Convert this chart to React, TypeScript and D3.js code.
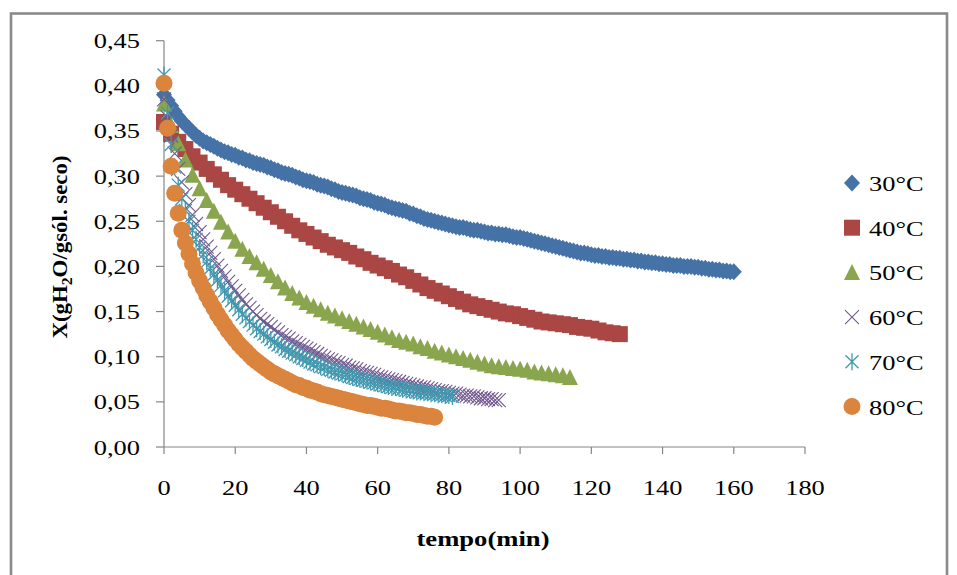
import React from "react";
import * as d3 from "d3";

// ---- data (X in g H2O / g sólido seco, tempo in min) ----
const seriesNames = ["30°C", "40°C", "50°C", "60°C", "70°C", "80°C"];
const seriesColors = ["#4572A7", "#AA4643", "#89A54E", "#71588F", "#4198AF", "#DB843D"];
const seriesStepMin = [1, 2, 2, 1, 1, 1];

const X30 = [0.390,0.384,0.378,0.372,0.366,0.361,0.357,0.353,0.349,0.345,
0.342,0.339,0.337,0.335,0.333,0.331,0.329,0.327,0.326,0.324,
0.323,0.321,0.320,0.318,0.317,0.315,0.314,0.313,0.312,0.310,
0.309,0.307,0.306,0.304,0.303,0.302,0.301,0.299,0.298,0.296,
0.295,0.294,0.293,0.291,0.290,0.289,0.288,0.286,0.285,0.283,
0.282,0.281,0.280,0.279,0.278,0.276,0.275,0.274,0.273,0.271,
0.270,0.269,0.268,0.266,0.265,0.264,0.263,0.262,0.261,0.259,
0.258,0.256,0.255,0.253,0.252,0.251,0.250,0.249,0.248,0.247,
0.246,0.245,0.244,0.243,0.243,0.242,0.241,0.240,0.240,0.239,
0.238,0.237,0.237,0.236,0.236,0.235,0.235,0.234,0.233,0.232,
0.232,0.231,0.230,0.229,0.228,0.227,0.226,0.225,0.224,0.223,
0.222,0.221,0.220,0.219,0.218,0.217,0.216,0.215,0.215,0.214,
0.213,0.212,0.212,0.211,0.211,0.210,0.210,0.209,0.209,0.208,
0.208,0.207,0.207,0.206,0.206,0.205,0.205,0.204,0.204,0.203,
0.203,0.202,0.202,0.201,0.201,0.201,0.200,0.200,0.200,0.199,
0.199,0.198,0.198,0.197,0.197,0.196,0.196,0.195,0.195,0.194,
0.194];

const X40 = [0.360,0.347,0.338,0.330,0.322,0.315,0.308,0.302,0.296,0.290,
0.285,0.280,0.275,0.270,0.265,0.260,0.255,0.250,0.245,0.240,
0.236,0.232,0.228,0.224,0.221,0.218,0.215,0.211,0.208,0.204,
0.201,0.198,0.195,0.191,0.188,0.184,0.180,0.176,0.173,0.170,
0.167,0.164,0.161,0.158,0.156,0.154,0.152,0.150,0.148,0.147,
0.145,0.143,0.141,0.139,0.138,0.137,0.136,0.135,0.133,0.132,
0.131,0.129,0.127,0.126,0.125];

const X50 = [0.380,0.356,0.336,0.318,0.301,0.286,0.273,0.261,0.249,0.238,
0.228,0.219,0.211,0.204,0.197,0.190,0.183,0.176,0.170,0.165,
0.160,0.156,0.152,0.148,0.145,0.142,0.139,0.136,0.133,0.130,
0.127,0.124,0.121,0.118,0.116,0.114,0.111,0.109,0.106,0.104,
0.102,0.100,0.098,0.096,0.094,0.092,0.090,0.089,0.088,0.087,
0.086,0.085,0.083,0.082,0.081,0.080,0.079,0.077];

const X60 = [0.385,0.365,0.345,0.325,0.308,0.293,0.280,0.268,0.257,0.247,
0.238,0.230,0.222,0.215,0.208,0.201,0.195,0.189,0.183,0.178,
0.173,0.168,0.163,0.158,0.154,0.150,0.146,0.142,0.139,0.136,
0.133,0.130,0.127,0.124,0.122,0.120,0.117,0.115,0.113,0.111,
0.109,0.107,0.105,0.103,0.101,0.099,0.097,0.096,0.094,0.093,
0.091,0.090,0.088,0.087,0.086,0.084,0.083,0.082,0.081,0.080,
0.078,0.077,0.076,0.075,0.074,0.073,0.072,0.071,0.070,0.069,
0.068,0.067,0.066,0.066,0.065,0.064,0.063,0.062,0.062,0.061,
0.060,0.059,0.059,0.058,0.057,0.057,0.056,0.056,0.055,0.054,
0.054,0.053,0.053,0.052,0.052];

const X70 = [0.412,0.370,0.335,0.310,0.290,0.275,0.262,0.250,0.240,0.230,
0.221,0.213,0.205,0.198,0.191,0.185,0.179,0.173,0.167,0.162,
0.157,0.152,0.147,0.143,0.139,0.135,0.131,0.128,0.125,0.122,
0.119,0.116,0.113,0.111,0.108,0.106,0.104,0.102,0.100,0.098,
0.096,0.094,0.092,0.091,0.089,0.088,0.086,0.085,0.083,0.082,
0.081,0.080,0.078,0.077,0.076,0.075,0.074,0.073,0.072,0.071,
0.070,0.069,0.068,0.067,0.066,0.066,0.065,0.064,0.063,0.063,
0.062,0.061,0.061,0.060,0.060,0.059,0.059,0.058,0.058,0.057,
0.057,0.056];

const X80 = [0.403,0.353,0.311,0.281,0.259,0.240,0.226,0.214,0.203,0.193,
0.184,0.176,0.168,0.161,0.154,0.147,0.141,0.135,0.129,0.124,
0.119,0.114,0.110,0.106,0.102,0.098,0.095,0.092,0.089,0.086,
0.083,0.081,0.079,0.077,0.075,0.073,0.071,0.069,0.068,0.066,
0.065,0.063,0.062,0.061,0.059,0.058,0.057,0.056,0.055,0.054,
0.053,0.052,0.051,0.050,0.049,0.048,0.047,0.046,0.046,0.045,
0.044,0.043,0.043,0.042,0.041,0.040,0.040,0.039,0.038,0.038,
0.037,0.036,0.036,0.035,0.034,0.034,0.033];

const seriesValues = [X30, X40, X50, X60, X70, X80];

const xTicks = [0, 20, 40, 60, 80, 100, 120, 140, 160, 180];
const yTicks = [0, 0.05, 0.1, 0.15, 0.2, 0.25, 0.3, 0.35, 0.4, 0.45];

const FONT = "'Liberation Serif', 'Times New Roman', serif";
const AXIS = "#868686";

function Marker({ kind, color }: { kind: number; color: string }) {
  switch (kind) {
    case 0:
      return <path d="M0,-8.5L8,0L0,8.5L-8,0Z" fill={color} />;
    case 1:
      return <rect x={-8} y={-8} width={16} height={16} fill={color} />;
    case 2:
      return <path d="M0,-8.5L8,7.5L-8,7.5Z" fill={color} />;
    case 3:
      return (
        <path d="M-7,-7L7,7M-7,7L7,-7" stroke={color} strokeWidth={1.1} fill="none" />
      );
    case 4:
      return (
        <path d="M-6.5,-6.5L6.5,6.5M-6.5,6.5L6.5,-6.5M0,-8.5L0,8.5" stroke={color} strokeWidth={1.3} fill="none" />
      );
    default:
      return <circle r={8.5} fill={color} />;
  }
}

function SText(props: {
  x: number; y: number; anchor?: string; size?: number; bold?: boolean; children: React.ReactNode;
}) {
  const { x, y, anchor = "start", size = 22, bold = false, children } = props;
  return (
    <text
      transform={`translate(${x},${y}) scale(1.2,1)`}
      textAnchor={anchor}
      fontSize={size}
      fontFamily={FONT}
      fontWeight={bold ? "bold" : "normal"}
      fill="#000"
    >
      {children}
    </text>
  );
}

export default function App() {
  const W = 957, H = 575;
  const x = d3.scaleLinear().domain([0, 180]).range([164, 805]);
  const y = d3.scaleLinear().domain([0, 0.45]).range([447, 40.7]);

  const legendY0 = 183;
  const legendDy = 44.7;

  return (
    <svg
      width={W}
      height={H}
      style={{ position: "absolute", left: 0, top: 0, background: "#fff" }}
    >
      <rect x={0} y={0} width={W} height={H} fill="#fff" />
      <rect x={11} y={13.5} width={936} height={575} fill="none" stroke="#8a8a8a" strokeWidth={2.6} />

      {/* axes */}
      <line x1={x(0)} x2={x(0)} y1={y(0.45)} y2={y(0)} stroke={AXIS} strokeWidth={1.2} />
      <line x1={x(0)} x2={x(180)} y1={y(0)} y2={y(0)} stroke={AXIS} strokeWidth={1.2} />
      {yTicks.map((t) => (
        <g key={"y" + t}>
          <line x1={x(0) - 8} x2={x(0)} y1={y(t)} y2={y(t)} stroke={AXIS} strokeWidth={1.2} />
          <SText x={140} y={y(t) + 7.5} anchor="end">
            {t.toFixed(2).replace(".", ",")}
          </SText>
        </g>
      ))}
      {xTicks.map((t) => (
        <g key={"x" + t}>
          <line x1={x(t)} x2={x(t)} y1={y(0)} y2={y(0) + 7} stroke={AXIS} strokeWidth={1.2} />
          <SText x={x(t)} y={495} anchor="middle">
            {String(t)}
          </SText>
        </g>
      ))}

      {/* axis titles */}
      <text
        x={483}
        y={546}
        textAnchor="middle"
        fontSize={22}
        fontWeight="bold"
        fontFamily={FONT}
        textLength={133}
        lengthAdjust="spacingAndGlyphs"
      >
        tempo(min)
      </text>
      <text
        transform={`translate(67,247) rotate(-90) scale(1.04,1)`}
        textAnchor="middle"
        fontSize={22}
        fontWeight="bold"
        fontFamily={FONT}
      >
        X(gH<tspan dy={5} fontSize={15}>2</tspan>
        <tspan dy={-5}>O/gsól. seco)</tspan>
      </text>

      {/* data */}
      {seriesValues.map((vals, si) => (
        <g key={"s" + si}>
          {vals.map((v, i) => (
            <g key={i} transform={`translate(${x(i * seriesStepMin[si])},${y(v)})`}>
              <Marker kind={si} color={seriesColors[si]} />
            </g>
          ))}
        </g>
      ))}

      {/* legend */}
      {seriesNames.map((n, i) => (
        <g key={"l" + i}>
          <g transform={`translate(852,${legendY0 + i * legendDy})`}>
            <Marker kind={i} color={seriesColors[i]} />
          </g>
          <SText x={869} y={legendY0 + i * legendDy + 8}>
            {n}
          </SText>
        </g>
      ))}
    </svg>
  );
}
